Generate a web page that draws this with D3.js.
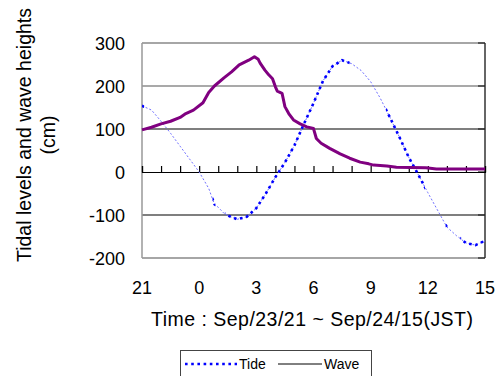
<!DOCTYPE html>
<html>
<head>
<meta charset="utf-8">
<script src="https://cdn.jsdelivr.net/npm/d3@7"></script>
<style>
  body { margin: 0; background: #fff; }
  svg { display: block; font-family: "Liberation Sans", Arial, sans-serif; }
</style>
</head>
<body>
<div id="chart"></div>
<script>
'use strict';

// hours after Sep/23 21:00 JST
var tideHours = [0, 0.5, 1, 1.5, 2, 2.5, 3, 3.5, 3.8, 4, 4.3, 4.6, 5, 5.5, 6, 6.5, 7, 7.5, 8,
  8.5, 9, 9.5, 10, 10.5, 11, 11.5, 12, 12.5, 13, 13.5, 14, 14.5, 15, 15.5, 16, 16.5, 17, 17.5, 18];
var tideLevels = [154, 144, 118, 90, 60, 30, 0, -38, -75, -82, -96, -103, -110, -104, -84, -50, -12, 22, 62,
  112, 160, 212, 246, 260, 252, 236, 210, 172, 128, 82, 34, -6, -48, -88, -128, -148, -165, -170, -160];
// spans (hours) where the tide record is observed
var tideObserved = [[0, 0.12], [3.7, 3.85], [4.35, 10.9], [12.8, 14.85], [15.93, 16.07], [16.7, 18]];

var waveHours = [0, 0.5, 1, 1.5, 2, 2.3, 2.7, 3.2, 3.5, 3.8, 4.3, 4.7, 5.1, 5.6, 5.9, 6.1, 6.2, 6.45,
  6.65, 6.85, 7.0, 7.1, 7.35, 7.5, 7.7, 7.95, 8.3, 8.65, 9.0, 9.15, 9.4, 9.85, 10.4, 10.9, 11.45,
  11.9, 12.15, 12.85, 13.35, 14.9, 15.45, 18];
var waveHeights = [98, 104, 112, 118, 127, 136, 144, 161, 185, 200, 219, 233, 249, 260, 268, 262, 253, 237,
  226, 217, 198, 188, 183, 152, 136, 121, 112, 105, 101, 78, 67, 55, 42, 32, 23,
  19, 16, 14, 11, 10, 7, 7];

var xTickValues = [0, 3, 6, 9, 12, 15, 18];
var xTickLabels = ['21', '0', '3', '6', '9', '12', '15'];
var yTickValues = [-200, -100, 0, 100, 200, 300];

var W = 500, H = 376;
var m = { left: 142, right: 15, top: 43, bottom: 118 };

var svg = d3.select('#chart').append('svg')
  .attr('width', W)
  .attr('height', H);

var x = d3.scaleLinear().domain([0, 18]).range([m.left, W - m.right]);
var y = d3.scaleLinear().domain([-200, 300]).range([H - m.bottom, m.top]);

var x0 = x(0), x1 = x(18), yTop = y(300), yBot = y(-200);

// grid lines
var gridColor = { '200': '#555', '100': '#000', '-100': '#000' };
svg.append('g').selectAll('line')
  .data([200, 100, -100])
  .join('line')
  .attr('x1', x0).attr('x2', x1)
  .attr('y1', function(d) { return y(d); })
  .attr('y2', function(d) { return y(d); })
  .attr('stroke', function(d) { return gridColor[d]; })
  .attr('stroke-width', 1.2);

// frame
svg.append('line').attr('x1', x0).attr('x2', x1).attr('y1', yTop).attr('y2', yTop)
  .attr('stroke', '#888').attr('stroke-width', 1.5);
svg.append('line').attr('x1', x0).attr('x2', x1).attr('y1', yBot).attr('y2', yBot)
  .attr('stroke', '#888').attr('stroke-width', 1.5);
svg.append('line').attr('x1', x0).attr('x2', x0).attr('y1', yTop).attr('y2', yBot)
  .attr('stroke', '#999').attr('stroke-width', 1.5);
svg.append('line').attr('x1', x1).attr('x2', x1).attr('y1', yTop).attr('y2', yBot)
  .attr('stroke', '#333').attr('stroke-width', 1.5);

// right side inner ticks
svg.append('g').selectAll('line')
  .data(yTickValues)
  .join('line')
  .attr('x1', x1 - 7).attr('x2', x1)
  .attr('y1', function(d) { return y(d); })
  .attr('y2', function(d) { return y(d); })
  .attr('stroke', '#222').attr('stroke-width', 1.2);

// zero line with hourly ticks
var zeroAxis = d3.axisTop(x)
  .tickValues(d3.range(0, 19))
  .tickSize(6)
  .tickFormat('');
var gz = svg.append('g')
  .attr('transform', 'translate(0,' + y(0) + ')')
  .call(zeroAxis);
gz.select('.domain').attr('stroke', '#000').attr('stroke-width', 1.2);
gz.selectAll('.tick line').attr('stroke', '#000').attr('stroke-width', 1.2);

// y tick labels
svg.append('g').selectAll('text')
  .data(yTickValues)
  .join('text')
  .attr('x', 125)
  .attr('y', function(d) { return y(d) + 6.5; })
  .attr('text-anchor', 'end')
  .attr('font-size', 18)
  .attr('fill', '#000')
  .text(function(d) { return d; });

// x tick labels
svg.append('g').selectAll('text')
  .data(xTickValues)
  .join('text')
  .attr('x', function(d) { return x(d); })
  .attr('y', 294)
  .attr('text-anchor', 'middle')
  .attr('font-size', 18)
  .attr('fill', '#000')
  .text(function(d, i) { return xTickLabels[i]; });

// titles
svg.append('text')
  .attr('x', 312).attr('y', 326)
  .attr('text-anchor', 'middle')
  .attr('font-size', 19.5)
  .attr('textLength', 322)
  .attr('lengthAdjust', 'spacing')
  .text('Time : Sep/23/21 ~ Sep/24/15(JST)');

var yt = svg.append('text')
  .attr('transform', 'translate(31,135) rotate(-90)')
  .attr('text-anchor', 'middle')
  .attr('font-size', 19.5);
yt.append('tspan').attr('x', 0).attr('y', 0).text('Tidal levels and wave heights');
yt.append('tspan').attr('x', 0).attr('y', 24).text('(cm)');

// data lines
var tideLine = d3.line()
  .x(function(d, i) { return x(tideHours[i]); })
  .y(function(d) { return y(d); });
var waveLine = d3.line()
  .x(function(d, i) { return x(waveHours[i]); })
  .y(function(d) { return y(d); });

var clip = svg.append('defs').append('clipPath').attr('id', 'observed');
clip.selectAll('rect')
  .data(tideObserved)
  .join('rect')
  .attr('x', function(d) { return x(d[0]); })
  .attr('width', function(d) { return x(d[1]) - x(d[0]); })
  .attr('y', 0)
  .attr('height', H);

svg.append('path')
  .datum(tideLevels)
  .attr('d', tideLine)
  .attr('fill', 'none')
  .attr('stroke', '#6f6fff')
  .attr('stroke-width', 1)
  .attr('stroke-dasharray', '2,2');

svg.append('path')
  .datum(tideLevels)
  .attr('d', tideLine)
  .attr('clip-path', 'url(#observed)')
  .attr('fill', 'none')
  .attr('stroke', '#0000ff')
  .attr('stroke-width', 2.6)
  .attr('stroke-dasharray', '2.6,3.6');

svg.append('path')
  .datum(waveHeights)
  .attr('d', waveLine)
  .attr('fill', 'none')
  .attr('stroke', '#800080')
  .attr('stroke-width', 3)
  .attr('stroke-linejoin', 'round');

// legend
var lg = svg.append('g');
lg.append('rect')
  .attr('x', 180.5).attr('y', 350.5)
  .attr('width', 191).attr('height', 40)
  .attr('fill', '#fff')
  .attr('stroke', '#444');
lg.append('line')
  .attr('x1', 185).attr('x2', 237).attr('y1', 364).attr('y2', 364)
  .attr('stroke', '#0000ff').attr('stroke-width', 2.6)
  .attr('stroke-dasharray', '2.6,3.6');
lg.append('text').attr('x', 239).attr('y', 369).attr('font-size', 14).text('Tide');
lg.append('line')
  .attr('x1', 278).attr('x2', 322).attr('y1', 364).attr('y2', 364)
  .attr('stroke', '#000').attr('stroke-width', 1);
lg.append('text').attr('x', 324).attr('y', 369).attr('font-size', 14).text('Wave');
</script>
</body>
</html>
